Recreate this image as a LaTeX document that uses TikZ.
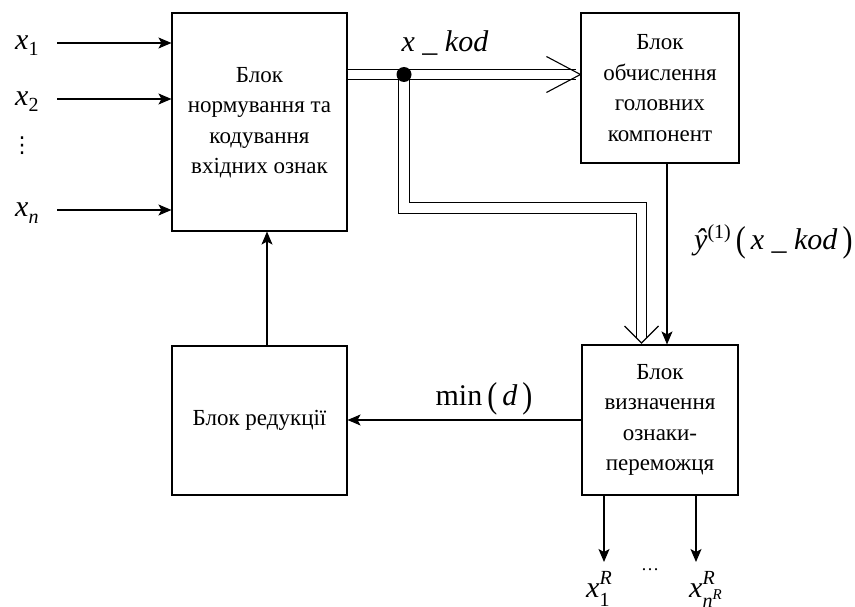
\documentclass[tikz,border=0pt]{standalone}
\usepackage{fontspec}
\usepackage{graphicx}
\setmainfont{Liberation Serif}
\newfontfamily\dejavu{DejaVu Sans}
\usetikzlibrary{arrows.meta,calc}
\newcommand\scrp[1]{{\fontsize{20}{20}\selectfont #1}}
\newcommand\sscrp[1]{{\fontsize{15}{15}\selectfont #1}}
\newcommand\tallp[1]{\raisebox{-2pt}{\scalebox{1}[1.2]{#1}}}
\begin{document}
\begin{tikzpicture}[x=1pt,y=-1pt,
  blk/.style={draw,line width=1.1pt,inner sep=0pt,align=center,
    font=\fontsize{23}{30.5}\selectfont},
  lbl/.style={inner sep=0pt,font=\fontsize{30}{32}\selectfont},
  arr/.style={line width=1.1pt,-{Stealth[length=13pt,width=11pt,inset=3pt]}},
  dbl/.style={line width=1.1pt,double,double distance=9.5pt},
  vee/.style={line width=1.1pt,line join=miter}]
\useasboundingbox (0,0) rectangle (855,607);

% blocks
\node[blk,minimum width=175pt,minimum height=218pt] (b1) at (259.5,122)
  {\raisebox{-3pt}{\begin{tabular}{@{}c@{}}Блок\\нормування та\\кодування\\вхідних ознак\end{tabular}}};
\node[blk,minimum width=158pt,minimum height=150pt] (b2) at (660,88)
  {Блок\\обчислення\\головних\\компонент};
\node[blk,minimum width=156pt,minimum height=150pt] (b3) at (660,420)
  {Блок\\визначення\\ознаки-\\переможця};
\node[blk,minimum width=175pt,minimum height=149pt] (b4) at (259.5,420.5)
  {Блок редукції};

% inputs
\node[lbl,anchor=base west] (x1) at (15,50) {\textit{x}\raisebox{-6pt}{\scrp{1}}};
\node[lbl,anchor=base west] (x2) at (15,106) {\textit{x}\raisebox{-6pt}{\scrp{2}}};
\node[lbl,inner sep=0pt] (xd) at (22,146) {\dejavu\fontsize{22}{22}\selectfont ⋮};
\node[lbl,anchor=base west] (xn) at (15,217) {\textit{x}\raisebox{-6pt}{\scrp{\textit{n}}}};
\coordinate (s1) at (57,43);
\coordinate (s2) at (57,99);
\coordinate (sn) at (57,210);
\draw[arr] (s1) -- (s1 -| b1.west);
\draw[arr] (s2) -- (s2 -| b1.west);
\draw[arr] (sn) -- (sn -| b1.west);

% x_kod bus
\coordinate (j) at (404,74.5);
\coordinate (t1) at (b2.west |- j);
\draw[dbl] (b1.east |- j) -- ($(t1)+(-4,0)$);
\draw[vee] ($(t1)+(-34,-18)$) -- (t1) -- ($(t1)+(-34,18)$);
\coordinate (t2) at (641.5,343);
\draw[dbl] (j) |- (641.5,208) -- ($(t2)+(0,-5)$);
\draw[vee] ($(t2)+(-17,-17)$) -- (t2) -- ($(t2)+(17,-17)$);
\fill (j) circle (7.5pt);
\node[lbl,anchor=base] (kod) at (445,52) {\textit{x \_ kod}};

% PCA output
\coordinate (p) at ($(b2.south)+(7,0)$);
\draw[arr] (p) -- (p |- b3.north);
\node[lbl,anchor=base west] (yl) at (694,250)
  {\textit{ŷ}\raisebox{11pt}{\scrp{(1)}}\,\tallp{(}\,\textit{x \_ kod}\,\tallp{)}};

% feedback
\draw[arr] (b3.west) -- (b3.west -| b4.east);
\node[lbl,anchor=base] (mind) at (484,405) {min\,\tallp{(}\,\textit{d}\,\tallp{)}};
\coordinate (r) at ($(b4.north)+(7.5,0)$);
\draw[arr] (r) -- (r |- b1.south);

% outputs
\coordinate (o1) at (604,562);
\coordinate (o2) at (696,562);
\draw[arr] (o1 |- b3.south) -- (o1);
\draw[arr] (o2 |- b3.south) -- (o2);
\node[lbl,anchor=base west] (y1) at (586,597)
  {\textit{x}\rlap{\raisebox{13pt}{\scrp{\textit{R}}}}\raisebox{-9pt}{\scrp{1}}};
\node[lbl,anchor=base] (ell) at (650,570) {\fontsize{18}{18}\selectfont …};
\node[lbl,anchor=base west] (y2) at (689,597)
  {\textit{x}\rlap{\raisebox{13pt}{\scrp{\textit{R}}}}\raisebox{-10pt}{\scrp{\textit{n}}\raisebox{8pt}{\sscrp{\textit{R}}}}};
\end{tikzpicture}
\end{document}
